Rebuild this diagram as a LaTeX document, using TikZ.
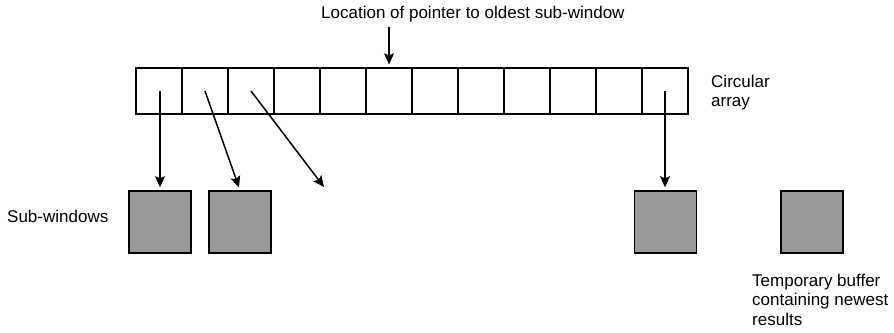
\documentclass[tikz,border=0pt]{standalone}
\usepackage{fontspec}
\setmainfont{Liberation Sans}
\usepackage{tikz}
\usetikzlibrary{arrows.meta,positioning,calc}

\begin{document}
\begin{tikzpicture}[
x=1pt, y=-1pt,
font=\fontsize{17}{19.5}\selectfont,
cell/.style={draw, line width=1.2pt, minimum size=46pt, inner sep=0pt},
win/.style={draw, line width=1.5pt, fill=black!40, minimum size=62pt, inner sep=0pt},
lbl/.style={inner sep=0pt, align=left},
arr/.style={-{Stealth[length=11pt, width=10pt, inset=2pt]}, line width=1.5pt, shorten >=3pt}
]
\useasboundingbox (0,0) rectangle (894,332);

% circular array
\foreach \i in {1,...,12}
  \node[cell] (c\i) at ({136+46*(\i-0.5)},91) {};

% sub-windows and buffer
\node[win] (sw1) at (160,222) {};
\node[win] (sw2) at (240,222) {};
\node[win] (sw3) at (665.5,222) {};
\node[win] (buf) at (812,222) {};

% labels
\node[lbl, anchor=base west] (ptrlbl) at (321,18) {Location of pointer to oldest sub-window};
\node[lbl, anchor=north west] (arrlbl) at (711,74.6) {Circular\\array};
\node[lbl, anchor=base west] (swlbl) at (7,222) {Sub-windows};
\node[lbl, anchor=north west] (buflbl) at (752,273.6) {Temporary buffer\\containing newest\\results};

\coordinate (ptr) at (389,27);
\coordinate (free) at (324,187);

\draw[arr] (ptr) -- (ptr |- c6.north);
\draw[arr] (sw1.north |- c1.center) -- (sw1.north);
\draw[arr] (c2.center) -- (sw2.north);
\draw[arr, shorten >=0pt] (c3.center) -- (free);
\draw[arr] (c12.center) -- (c12.center |- sw3.north);
\end{tikzpicture}
\end{document}
